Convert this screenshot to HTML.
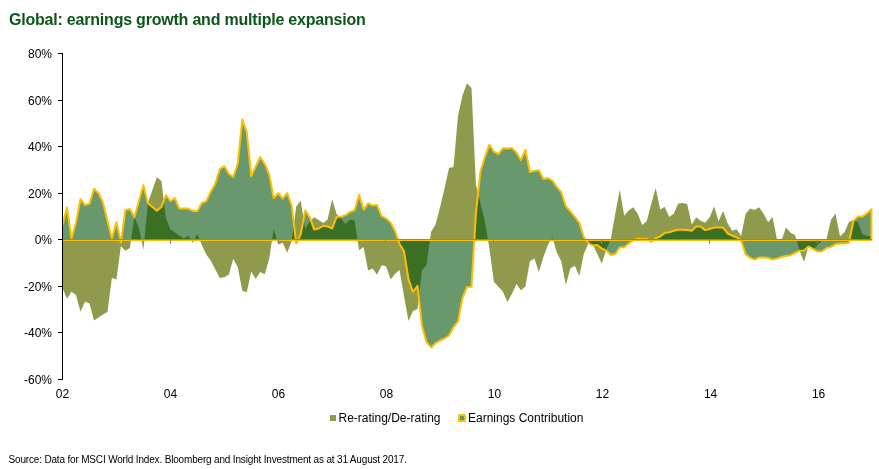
<!DOCTYPE html>
<html><head><meta charset="utf-8"><title>Global: earnings growth and multiple expansion</title>
<style>
html,body{margin:0;padding:0;background:#fff;}
body{width:879px;height:469px;position:relative;overflow:hidden;font-family:"Liberation Sans",Arial,sans-serif;color:#000;}
.title{position:absolute;left:9px;top:10.5px;font-size:16px;letter-spacing:-0.21px;font-weight:bold;color:#0c561a;white-space:nowrap;line-height:18px;}
svg{position:absolute;left:0;top:0;}
.yl{position:absolute;left:0;width:52px;text-align:right;font-size:12px;line-height:16px;white-space:nowrap;}
.xl{position:absolute;top:386px;width:40px;text-align:center;font-size:12px;line-height:16px;}
.leg{position:absolute;top:410px;font-size:12px;line-height:16px;white-space:nowrap;}
.sw{position:absolute;}
.src{position:absolute;left:8.5px;top:454px;letter-spacing:-0.17px;font-size:10px;line-height:12px;white-space:nowrap;}
</style></head><body>
<div class="title">Global: earnings growth and multiple expansion</div>
<svg width="879" height="469" viewBox="0 0 879 469">
<defs><clipPath id="plot"><rect x="63" y="40" width="811" height="350"/></clipPath></defs>
<g clip-path="url(#plot)">
<polygon points="62.5,240.0 62.5,288.0 67.0,298.7 71.5,291.8 76.0,295.0 80.5,311.7 85.0,301.4 89.5,303.6 94.0,320.6 98.5,317.4 102.9,314.6 107.4,312.0 111.9,278.0 116.4,279.5 120.9,246.0 125.4,250.7 129.9,248.0 134.4,217.0 138.9,228.0 143.4,250.0 147.9,203.0 152.4,190.0 156.9,177.3 161.4,181.0 165.9,218.0 170.4,229.5 174.8,232.5 179.3,235.5 183.8,238.5 188.3,235.5 192.8,243.0 197.3,233.8 201.8,244.9 206.3,254.4 210.8,260.8 215.3,269.4 219.8,277.9 224.3,277.3 228.8,274.7 233.3,258.7 237.8,267.2 242.3,290.7 246.8,292.2 251.2,271.5 255.7,279.0 260.2,272.1 264.7,274.3 269.2,258.7 273.7,228.9 278.2,244.4 282.7,242.7 287.2,252.8 291.7,241.0 296.2,206.6 300.7,200.8 305.2,229.0 309.7,221.5 314.2,217.2 318.7,220.0 323.2,223.0 327.6,219.4 332.1,199.3 336.6,214.0 341.1,218.3 345.6,224.3 350.1,219.4 354.6,220.4 359.1,250.3 363.6,247.0 368.1,270.5 372.6,268.4 377.1,274.8 381.6,265.2 386.1,266.2 390.6,279.5 395.1,273.7 399.5,270.0 404.0,296.0 408.5,321.0 413.0,311.1 417.5,309.0 422.0,270.0 426.5,265.0 431.0,232.0 435.5,224.6 440.0,207.6 444.5,188.4 449.0,168.0 453.5,167.0 458.0,115.8 462.5,95.6 467.0,83.2 471.5,88.0 475.9,184.0 480.4,203.3 484.9,221.5 489.4,248.5 493.9,281.7 498.4,286.7 502.9,291.7 507.4,302.0 511.9,294.0 516.4,284.0 520.9,290.2 525.4,286.5 529.9,261.2 534.4,258.5 538.9,272.0 543.4,257.0 547.9,245.0 552.3,237.0 556.8,252.5 561.3,261.6 565.8,285.0 570.3,268.6 574.8,265.8 579.3,275.9 583.8,254.0 588.3,243.5 592.8,244.5 597.3,254.0 601.8,263.7 606.3,249.5 610.8,239.0 615.3,213.6 619.8,189.8 624.2,215.8 628.7,210.5 633.2,207.3 637.7,213.7 642.2,225.0 646.7,221.2 651.2,204.1 655.7,188.1 660.2,209.4 664.7,206.7 669.2,216.9 673.7,213.7 678.2,203.5 682.7,203.0 687.2,204.1 691.7,224.4 696.2,217.3 700.6,220.7 705.1,222.8 709.6,217.6 714.1,206.5 718.6,221.2 723.1,210.9 727.6,223.3 732.1,230.8 736.6,229.3 741.1,236.1 745.6,213.7 750.1,208.4 754.6,210.1 759.1,207.3 763.6,213.7 768.1,222.2 772.6,216.9 777.0,239.7 781.5,240.4 786.0,227.5 790.5,232.8 795.0,235.0 799.5,250.5 804.0,262.0 808.5,246.0 813.0,249.5 817.5,245.3 822.0,240.8 826.5,239.3 831.0,219.8 835.5,213.6 840.0,236.6 844.5,232.2 848.9,222.1 853.4,220.0 857.9,222.0 862.4,234.0 866.9,236.0 871.4,236.3 871.4,240.0" fill="#909a4c"/>
<polygon points="62.5,240.0 62.5,225.0 67.0,207.6 71.5,238.5 76.0,222.5 80.5,199.0 85.0,205.0 89.5,203.7 94.0,188.8 98.5,193.3 102.9,202.2 107.4,220.4 111.9,238.5 116.4,222.0 120.9,242.7 125.4,210.0 129.9,209.0 134.4,217.2 138.9,201.0 143.4,185.2 147.9,203.3 152.4,207.0 156.9,210.8 161.4,207.1 165.9,195.2 170.4,201.2 174.8,198.0 179.3,208.6 183.8,208.6 188.3,208.6 192.8,210.8 197.3,211.2 201.8,202.9 206.3,201.2 210.8,191.6 215.3,183.6 219.8,169.0 224.3,166.0 228.8,173.8 233.3,177.0 237.8,163.4 242.3,119.2 246.8,132.4 251.2,176.2 255.7,166.5 260.2,157.0 264.7,163.7 269.2,174.5 273.7,198.0 278.2,193.0 282.7,198.6 287.2,193.0 291.7,205.5 296.2,243.5 300.7,234.3 305.2,210.2 309.7,217.2 314.2,229.6 318.7,228.5 323.2,225.8 327.6,226.4 332.1,228.5 336.6,216.8 341.1,216.8 345.6,215.1 350.1,211.9 354.6,210.2 359.1,194.9 363.6,209.8 368.1,203.4 372.6,205.5 377.1,205.1 381.6,216.2 386.1,218.3 390.6,222.6 395.1,231.0 399.5,243.9 404.0,251.3 408.5,279.3 413.0,292.0 417.5,285.8 422.0,326.0 426.5,342.0 431.0,347.4 435.5,343.2 440.0,340.6 444.5,338.5 449.0,335.5 453.5,327.2 458.0,321.5 462.5,298.0 467.0,287.0 471.5,286.7 475.9,213.5 480.4,171.5 484.9,157.0 489.4,144.6 493.9,151.7 498.4,154.2 502.9,148.2 507.4,148.5 511.9,148.0 516.4,152.4 520.9,160.2 525.4,149.8 529.9,172.0 534.4,170.9 538.9,170.3 543.4,179.0 547.9,178.0 552.3,180.5 556.8,186.9 561.3,192.2 565.8,206.1 570.3,211.4 574.8,216.8 579.3,222.8 583.8,237.0 588.3,243.0 592.8,245.6 597.3,245.1 601.8,248.6 606.3,250.5 610.8,255.0 615.3,254.1 619.8,247.2 624.2,247.2 628.7,243.6 633.2,240.4 637.7,238.7 642.2,238.7 646.7,238.7 651.2,242.0 655.7,238.2 660.2,236.5 664.7,232.9 669.2,232.3 673.7,230.8 678.2,229.7 682.7,229.7 687.2,230.1 691.7,230.8 696.2,226.5 700.6,226.5 705.1,230.1 709.6,229.0 714.1,227.6 718.6,227.6 723.1,227.6 727.6,233.5 732.1,235.7 736.6,237.2 741.1,240.4 745.6,254.2 750.1,257.8 754.6,259.6 759.1,257.4 763.6,257.4 768.1,258.0 772.6,259.6 777.0,258.5 781.5,257.0 786.0,255.9 790.5,255.2 795.0,253.0 799.5,250.7 804.0,250.5 808.5,246.6 813.0,249.0 817.5,251.5 822.0,251.3 826.5,248.1 831.0,246.9 835.5,244.1 840.0,243.4 844.5,243.4 848.9,242.8 853.4,221.0 857.9,216.6 862.4,216.6 866.9,213.3 871.4,209.2 871.4,240.0" fill="rgba(3,83,10,0.6)"/>
<polyline points="62.5,225.0 67.0,207.6 71.5,238.5 76.0,222.5 80.5,199.0 85.0,205.0 89.5,203.7 94.0,188.8 98.5,193.3 102.9,202.2 107.4,220.4 111.9,238.5 116.4,222.0 120.9,242.7 125.4,210.0 129.9,209.0 134.4,217.2 138.9,201.0 143.4,185.2 147.9,203.3 152.4,207.0 156.9,210.8 161.4,207.1 165.9,195.2 170.4,201.2 174.8,198.0 179.3,208.6 183.8,208.6 188.3,208.6 192.8,210.8 197.3,211.2 201.8,202.9 206.3,201.2 210.8,191.6 215.3,183.6 219.8,169.0 224.3,166.0 228.8,173.8 233.3,177.0 237.8,163.4 242.3,119.2 246.8,132.4 251.2,176.2 255.7,166.5 260.2,157.0 264.7,163.7 269.2,174.5 273.7,198.0 278.2,193.0 282.7,198.6 287.2,193.0 291.7,205.5 296.2,243.5 300.7,234.3 305.2,210.2 309.7,217.2 314.2,229.6 318.7,228.5 323.2,225.8 327.6,226.4 332.1,228.5 336.6,216.8 341.1,216.8 345.6,215.1 350.1,211.9 354.6,210.2 359.1,194.9 363.6,209.8 368.1,203.4 372.6,205.5 377.1,205.1 381.6,216.2 386.1,218.3 390.6,222.6 395.1,231.0 399.5,243.9 404.0,251.3 408.5,279.3 413.0,292.0 417.5,285.8 422.0,326.0 426.5,342.0 431.0,347.4 435.5,343.2 440.0,340.6 444.5,338.5 449.0,335.5 453.5,327.2 458.0,321.5 462.5,298.0 467.0,287.0 471.5,286.7 475.9,213.5 480.4,171.5 484.9,157.0 489.4,144.6 493.9,151.7 498.4,154.2 502.9,148.2 507.4,148.5 511.9,148.0 516.4,152.4 520.9,160.2 525.4,149.8 529.9,172.0 534.4,170.9 538.9,170.3 543.4,179.0 547.9,178.0 552.3,180.5 556.8,186.9 561.3,192.2 565.8,206.1 570.3,211.4 574.8,216.8 579.3,222.8 583.8,237.0 588.3,243.0 592.8,245.6 597.3,245.1 601.8,248.6 606.3,250.5 610.8,255.0 615.3,254.1 619.8,247.2 624.2,247.2 628.7,243.6 633.2,240.4 637.7,238.7 642.2,238.7 646.7,238.7 651.2,242.0 655.7,238.2 660.2,236.5 664.7,232.9 669.2,232.3 673.7,230.8 678.2,229.7 682.7,229.7 687.2,230.1 691.7,230.8 696.2,226.5 700.6,226.5 705.1,230.1 709.6,229.0 714.1,227.6 718.6,227.6 723.1,227.6 727.6,233.5 732.1,235.7 736.6,237.2 741.1,240.4 745.6,254.2 750.1,257.8 754.6,259.6 759.1,257.4 763.6,257.4 768.1,258.0 772.6,259.6 777.0,258.5 781.5,257.0 786.0,255.9 790.5,255.2 795.0,253.0 799.5,250.7 804.0,250.5 808.5,246.6 813.0,249.0 817.5,251.5 822.0,251.3 826.5,248.1 831.0,246.9 835.5,244.1 840.0,243.4 844.5,243.4 848.9,242.8 853.4,221.0 857.9,216.6 862.4,216.6 866.9,213.3 871.4,209.2 871.4,240.0 63,240.0" fill="none" stroke="#fdc000" stroke-width="2" stroke-linejoin="round"/>
</g>
<rect x="63" y="239" width="809" height="1" fill="#868686"/>
<rect x="62" y="239" width="1" height="5" fill="#868686"/>
<rect x="170" y="239" width="1" height="5" fill="#868686"/>
<rect x="278" y="239" width="1" height="5" fill="#868686"/>
<rect x="385" y="239" width="1" height="5" fill="#868686"/>
<rect x="493" y="239" width="1" height="5" fill="#868686"/>
<rect x="601" y="239" width="1" height="5" fill="#868686"/>
<rect x="709" y="239" width="1" height="5" fill="#868686"/>
<rect x="817" y="239" width="1" height="5" fill="#868686"/>
<rect x="62" y="53" width="1" height="327" fill="#000"/>
<rect x="58" y="53" width="4" height="1" fill="#000"/>
<rect x="58" y="100" width="4" height="1" fill="#000"/>
<rect x="58" y="146" width="4" height="1" fill="#000"/>
<rect x="58" y="193" width="4" height="1" fill="#000"/>
<rect x="58" y="239" width="4" height="1" fill="#000"/>
<rect x="58" y="286" width="4" height="1" fill="#000"/>
<rect x="58" y="332" width="4" height="1" fill="#000"/>
<rect x="58" y="379" width="4" height="1" fill="#000"/>
</svg>
<div class="yl" style="top:45.5px">80%</div>
<div class="yl" style="top:92.5px">60%</div>
<div class="yl" style="top:138.5px">40%</div>
<div class="yl" style="top:185.5px">20%</div>
<div class="yl" style="top:231.5px">0%</div>
<div class="yl" style="top:278.5px">-20%</div>
<div class="yl" style="top:324.5px">-40%</div>
<div class="yl" style="top:371.5px">-60%</div>
<div class="xl" style="left:42.4px">02</div>
<div class="xl" style="left:150.4px">04</div>
<div class="xl" style="left:258.5px">06</div>
<div class="xl" style="left:366.5px">08</div>
<div class="xl" style="left:474.5px">10</div>
<div class="xl" style="left:582.5px">12</div>
<div class="xl" style="left:690.6px">14</div>
<div class="xl" style="left:798.6px">16</div>
<div class="sw" style="left:330px;top:415px;width:6px;height:6px;background:#909a4c"></div>
<div class="leg" style="left:338.5px">Re-rating/De-rating</div>
<div class="sw" style="left:458px;top:414px;width:4px;height:4px;background:#67976b;border:2px solid #fdc000;border-radius:1.5px"></div>
<div class="leg" style="left:468px">Earnings Contribution</div>
<div class="src">Source: Data for MSCI World Index. Bloomberg and Insight Investment as at 31 August 2017.</div>
</body></html>
